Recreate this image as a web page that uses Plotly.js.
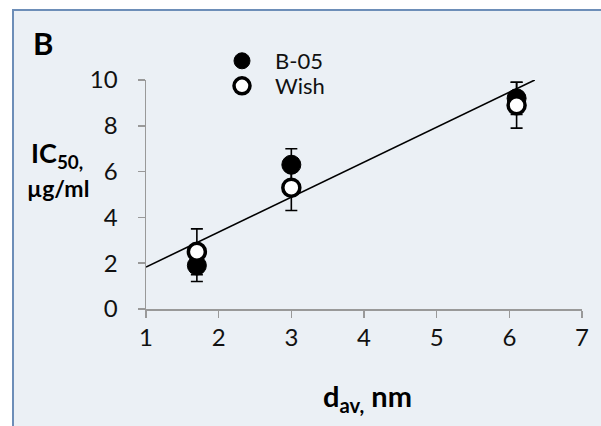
<!DOCTYPE html>
<html>
<head>
<meta charset="utf-8">
<script src="https://cdn.plot.ly/plotly-3.0.1.min.js"></script>
<style>html,body{margin:0;padding:0;background:#fff;}#chart{width:601px;height:426px;}</style>
</head>
<body>
<div id="chart"></div>
<script>
// Data
var sizeNm = [1.7, 3.0, 6.1];
var b05IC50 = [1.9, 6.3, 9.2];
var b05Err = [0.7, 0.7, 0.7];
var wishIC50 = [2.5, 5.3, 8.9];
var wishErr = [1.0, 1.0, 1.0];
var trendX = [1.0, 6.35];
var trendY = [1.83, 10.0];
var xTickVals = [1, 2, 3, 4, 5, 6, 7];
var xTickText = ['1', '2', '3', '4', '5', '6', '7'];
var yTickVals = [0, 2, 4, 6, 8, 10];

var FONT = 'Lato, "Open Sans", sans-serif';

var traces = [
  {
    x: trendX, y: trendY, mode: 'lines', showlegend: false, hoverinfo: 'skip',
    line: {color: '#000', width: 1.6}
  },
  {
    name: 'B-05', x: sizeNm, y: b05IC50, mode: 'markers', type: 'scatter', legend: 'legend',
    marker: {color: '#000', size: 19, line: {color: '#000', width: 1}},
    error_y: {type: 'data', array: b05Err, visible: true, color: '#000', thickness: 1.6, width: 6}
  },
  {
    name: 'Wish', x: sizeNm, y: wishIC50, mode: 'markers', type: 'scatter', legend: 'legend2',
    marker: {color: '#fff', size: 17, line: {color: '#000', width: 3.5}},
    error_y: {type: 'data', array: wishErr, visible: true, color: '#000', thickness: 1.6, width: 6}
  }
];

var L = 146, R = 582, T = 80, B = 309;
function px(x) { return (x - L) / (R - L); }
function py(y) { return (B - y) / (B - T); }

function legendAt(yPix) {
  return {
    x: px(209), y: py(yPix), xanchor: 'left', yanchor: 'middle',
    bgcolor: 'rgba(0,0,0,0)', borderwidth: 0, itemwidth: 56,
    font: {family: FONT, size: 22, color: '#111'},
    itemsizing: 'trace'
  };
}

var layout = {
  width: 601, height: 426,
  margin: {l: L, r: 601 - R, t: T, b: 426 - B, pad: 0},
  paper_bgcolor: '#ffffff',
  plot_bgcolor: 'rgba(0,0,0,0)',
  font: {family: FONT, color: '#111', size: 20},
  showlegend: true,
  legend: legendAt(61),
  legend2: legendAt(86),
  xaxis: {
    range: [1, 7], tickvals: xTickVals, ticktext: xTickText,
    showgrid: false, zeroline: false, showline: true,
    linecolor: '#999', linewidth: 1.5, ticks: 'outside', ticklen: 7,
    tickcolor: '#999', tickwidth: 1.5, ticklabelstandoff: 0,
    tickfont: {family: FONT, size: 24, color: '#111'}
  },
  yaxis: {
    range: [0, 10], tickvals: yTickVals,
    showgrid: false, zeroline: false, showline: true,
    linecolor: '#999', linewidth: 1.5, ticks: 'outside', ticklen: 7,
    tickcolor: '#999', tickwidth: 1.5, ticklabelstandoff: 15,
    tickfont: {family: FONT, size: 24, color: '#111'}
  },
  shapes: [
    {
      type: 'rect', xref: 'paper', yref: 'paper', layer: 'below',
      x0: px(13), x1: px(620), y0: py(440), y1: py(10),
      fillcolor: '#ebf0f5', line: {color: '#6d8eb8', width: 2}
    }
  ],
  annotations: [
    {
      text: '<b>B</b>', xref: 'paper', yref: 'paper', x: px(42.5), y: py(43.5),
      xanchor: 'center', yanchor: 'middle', showarrow: false,
      font: {family: FONT, size: 31, color: '#000'}
    },
    {
      text: '<b>IC<sub>50,</sub></b>', xref: 'paper', yref: 'paper', x: px(57), y: py(154),
      xanchor: 'center', yanchor: 'middle', showarrow: false,
      font: {family: FONT, size: 27, color: '#000'}
    },
    {
      text: '<b>µg/ml</b>', xref: 'paper', yref: 'paper', x: px(58), y: py(188),
      xanchor: 'center', yanchor: 'middle', showarrow: false,
      font: {family: FONT, size: 23, color: '#000'}
    },
    {
      text: '<b>d<sub>av,</sub> nm</b>', xref: 'paper', yref: 'paper', x: px(367), y: py(397),
      xanchor: 'center', yanchor: 'middle', showarrow: false,
      font: {family: FONT, size: 29, color: '#000'}
    }
  ]
};

Plotly.newPlot('chart', traces, layout, {displayModeBar: false, staticPlot: true});
</script>
</body>
</html>
